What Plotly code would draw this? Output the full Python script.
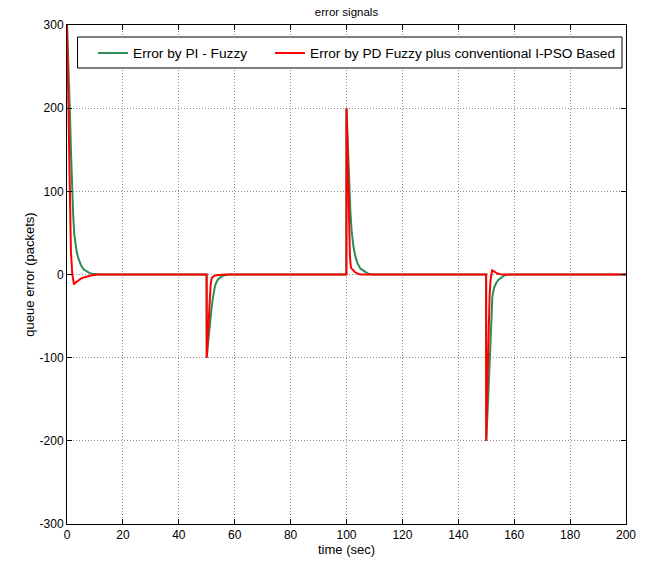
import plotly.graph_objects as go

# ---- data ----
green_name = "Error by PI - Fuzzy"
green_t = [0, 0.3, 0.6, 1.0, 1.4, 1.8, 2.2, 2.6, 3.0, 3.5, 4.0, 5.0, 6.0, 7.0, 8.0, 9.0, 10.0, 12.0,
           49.95, 50.0, 50.3, 50.8, 51.3, 51.8, 52.3, 52.95, 53.5, 54.0, 54.7, 55.5, 56.5, 58.0,
           99.95, 100.0, 100.4, 100.7, 101.0, 101.4, 101.85, 102.5, 103.3, 104.0, 105.0, 106.0, 107.0, 108.0, 110.0,
           149.95, 150.0, 150.4, 150.8, 151.3, 151.7, 152.2, 152.8, 153.6, 154.5, 155.5, 156.5, 158.0,
           200.0]
green_v = [300, 275, 240, 200, 150, 100, 72, 48, 37, 27, 20, 11, 6, 3.5, 2, 1, 0.5, 0,
           0, -100, -88, -70, -52, -38, -26, -14, -9, -6, -4, -2, -1, 0,
           0, 200, 165, 130, 100, 75, 52, 33, 20, 13, 7, 4.5, 2, 0.5, 0,
           0, -200, -175, -140, -100, -60, -26, -16, -10, -6, -3, -1, 0,
           0]

red_name = "Error by PD Fuzzy plus conventional I-PSO Based"
red_t = [0, 0.25, 0.5, 0.8, 1.07, 1.4, 1.9, 2.5, 3.0, 4.0, 5.0, 6.0, 7.4, 9.0, 11.0,
         49.95, 50.0, 50.3, 50.6, 50.8, 51.1, 51.4, 51.8, 52.5, 53.5, 55.0, 56.5,
         99.95, 100.0, 100.3, 100.65, 101.0, 101.25, 101.6, 102.3, 103.0, 104.0, 105.0,
         149.95, 150.0, 150.3, 150.6, 150.9, 151.2, 151.5, 151.8, 152.1, 152.6, 153.2, 154.0, 155.0, 156.5,
         200.0]
red_v = [300, 250, 200, 150, 100, 28, 0, -12, -10, -7, -5, -3.5, -2, -1, 0,
         0, -100, -80, -60, -46, -25, -12, -4, -2, -1, -0.3, 0,
         0, 200, 160, 100, 50, 20, 8, 5, 3, 1, 0,
         0, -200, -150, -100, -60, -26, -8, 2, 5, 4, 2.5, 1.2, 0.4, 0,
         0]

x_ticks = [0, 20, 40, 60, 80, 100, 120, 140, 160, 180, 200]
y_ticks = [-300, -200, -100, 0, 100, 200, 300]

title_text = "error signals"
x_label = "time (sec)"
y_label = "queue error (packets)"

FONT = "Liberation Sans, Arial, sans-serif"
W, H = 649, 569
L, R, T, B = 67, 23, 25, 45
PW, PH = W - L - R, H - T - B

def px_x(p):
    return (p - L) / PW

def px_y(p):
    return 1 - (p - T) / PH

fig = go.Figure()
fig.add_trace(go.Scatter(x=green_t, y=green_v, mode="lines", name=green_name,
                         line=dict(color="#2E8B57", width=2), legend="legend"))
fig.add_trace(go.Scatter(x=red_t, y=red_v, mode="lines", name=red_name,
                         line=dict(color="#FF0000", width=2), legend="legend2"))

axis_common = dict(
    showline=True, linecolor="black", linewidth=1, mirror="ticks",
    ticks="inside", ticklen=5, tickcolor="black", tickwidth=1,
    showgrid=True, gridcolor="#8c8c8c", griddash="1px,2px", gridwidth=1,
    zeroline=False, automargin=False,
    tickfont=dict(family=FONT, size=12, color="black"),
)

legend_common = dict(orientation="h", xanchor="left", yanchor="middle",
                     bgcolor="rgba(0,0,0,0)", borderwidth=0,
                     font=dict(family=FONT, size=13.7, color="black"),
                     itemclick=False, itemdoubleclick=False)

fig.update_layout(
    width=W, height=H,
    margin=dict(l=L, r=R, t=T, b=B),
    paper_bgcolor="white", plot_bgcolor="white",
    font=dict(family=FONT, size=12, color="black"),
    title=dict(text=title_text, x=0.5, xref="paper", xanchor="center",
               y=1 - 12 / H, yanchor="middle", font=dict(family=FONT, size=11.5)),
    xaxis=dict(range=[0, 200], tickvals=x_ticks, ticktext=[str(v) for v in x_ticks],
               title=dict(text=x_label, font=dict(family=FONT, size=13), standoff=2),
               **axis_common),
    yaxis=dict(range=[-300, 300], tickvals=y_ticks, ticktext=[str(v) for v in y_ticks],
               title=dict(text=y_label, font=dict(family=FONT, size=13), standoff=2),
               **axis_common),
    legend=dict(x=px_x(93), y=px_y(53), **legend_common),
    legend2=dict(x=px_x(270), y=px_y(53), **legend_common),
    shapes=[dict(type="rect", xref="paper", yref="paper",
                 x0=px_x(77.5), x1=px_x(622), y0=px_y(68), y1=px_y(37),
                 line=dict(color="black", width=1), fillcolor="white", layer="above")],
    showlegend=True,
)

fig.write_html("out.html", config={"displayModeBar": False},
               post_script="document.body.style.margin='0';")
